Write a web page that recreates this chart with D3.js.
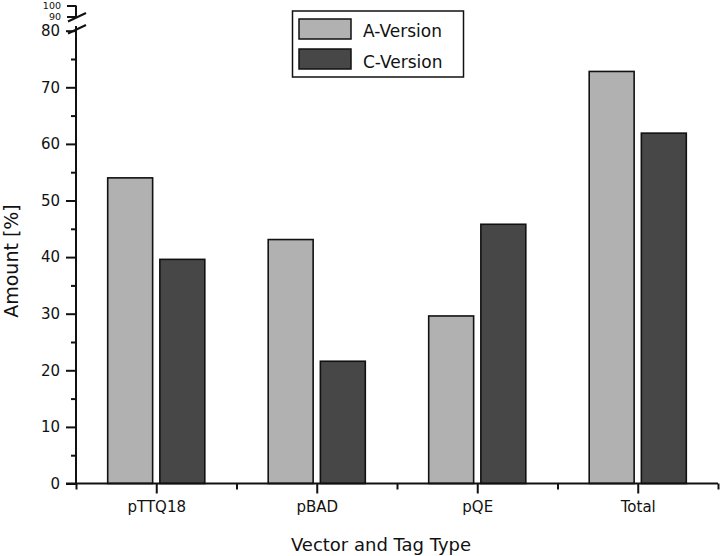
<!DOCTYPE html>
<html>
<head>
<meta charset="utf-8">
<script src="https://cdn.jsdelivr.net/npm/d3@7"></script>
<style>
  html, body { margin: 0; padding: 0; background: #fff; }
  svg { display: block; }
  text { font-family: "DejaVu Sans", Verdana, sans-serif; fill: #111; }
</style>
</head>
<body>
<svg id="chart" width="720" height="556"></svg>
<script>
const categories = ["pTTQ18", "pBAD", "pQE", "Total"];
const seriesNames = ["A-Version", "C-Version"];
const aVersion = [54.0, 43.1, 29.6, 72.8];
const cVersion = [39.6, 21.6, 45.8, 61.9];
const lowerTicks = [0, 10, 20, 30, 40, 50, 60, 70, 80];
const lowerMinorTicks = [5, 15, 25, 35, 45, 55, 65, 75];
const upperTicks = [90, 100];

const colors = ["#b1b1b1", "#474747"];
const svg = d3.select("#chart");

// scales
const x = d3.scaleLinear().domain([0.5, 4.5]).range([76, 718]);
const yLow = d3.scaleLinear().domain([0, 80]).range([483.5, 30.7]);
const yHigh = d3.scaleLinear().domain([90, 100]).range([16.5, 5.5]);
const offsets = [-0.1625, 0.1625];
const barW = x(0.28) - x(0);

// bars
const series = [aVersion, cVersion];
series.forEach((vals, s) => {
  svg.append("g").selectAll("rect")
    .data(vals)
    .join("rect")
    .attr("x", (d, i) => x(i + 1 + offsets[s]) - barW / 2)
    .attr("width", barW)
    .attr("y", d => yLow(d))
    .attr("height", d => yLow(0) - yLow(d))
    .attr("fill", colors[s])
    .attr("stroke", "#111")
    .attr("stroke-width", 1.6);
});

// y axis lower segment
const fontSize = 15;
const yAxisLow = svg.append("g").attr("transform", `translate(${x(0.5)},0)`)
  .call(d3.axisLeft(yLow).tickValues(lowerTicks).tickSize(10).tickPadding(6).tickFormat(d3.format("d")));
yAxisLow.select(".domain").remove();
svg.append("g").attr("transform", `translate(${x(0.5)},0)`)
  .call(d3.axisLeft(yLow).tickValues(lowerMinorTicks).tickSize(5).tickFormat(""))
  .select(".domain").remove();
svg.append("line")
  .attr("x1", x(0.5)).attr("x2", x(0.5))
  .attr("y1", yLow(0)).attr("y2", 26)
  .attr("stroke", "#111").attr("stroke-width", 2);

// y axis upper segment
const yAxisHigh = svg.append("g").attr("transform", `translate(${x(0.5)},0)`)
  .call(d3.axisLeft(yHigh).tickValues(upperTicks).tickSize(9).tickPadding(6).tickFormat(d3.format("d")));
yAxisHigh.select(".domain").remove();
svg.append("line")
  .attr("x1", x(0.5)).attr("x2", x(0.5))
  .attr("y1", yHigh(100)).attr("y2", 17)
  .attr("stroke", "#111").attr("stroke-width", 2);

// break marks
[[21.5, 13], [33.5, 25]].forEach(([y1, y2]) => {
  svg.append("line")
    .attr("x1", x(0.5) - 8).attr("y1", y1)
    .attr("x2", x(0.5) + 10).attr("y2", y2)
    .attr("stroke", "#111").attr("stroke-width", 2);
});

// x axis
const xAxis = svg.append("g").attr("transform", `translate(0,${yLow(0)})`)
  .call(d3.axisBottom(x).tickValues([1, 2, 3, 4]).tickSize(10).tickPadding(8)
    .tickFormat((d) => categories[d - 1]));
xAxis.select(".domain").remove();
svg.append("g").attr("transform", `translate(0,${yLow(0)})`)
  .call(d3.axisBottom(x).tickValues([0.5, 1.5, 2.5, 3.5, 4.5]).tickSize(6).tickFormat(""))
  .select(".domain").remove();
svg.append("line")
  .attr("x1", x(0.5) - 10).attr("x2", x(4.5))
  .attr("y1", yLow(0)).attr("y2", yLow(0))
  .attr("stroke", "#111").attr("stroke-width", 2);

svg.selectAll(".tick line").attr("stroke", "#111").attr("stroke-width", 2);
svg.selectAll(".tick text")
  .style("font-family", '"DejaVu Sans", Verdana, sans-serif')
  .style("font-size", fontSize + "px")
  .attr("fill", "#111");
yAxisHigh.selectAll(".tick text").style("font-size", "9.5px");

// axis titles
svg.append("text")
  .attr("x", 381).attr("y", 551)
  .attr("text-anchor", "middle")
  .style("font-size", "18px")
  .text("Vector and Tag Type");
svg.append("text")
  .attr("transform", "translate(18,261) rotate(-90)")
  .attr("text-anchor", "middle")
  .style("font-size", "19px")
  .text("Amount [%]");

// legend
const lg = svg.append("g");
lg.append("rect")
  .attr("x", 292.5).attr("y", 11).attr("width", 171).attr("height", 66)
  .attr("fill", "#fff").attr("stroke", "#111").attr("stroke-width", 1.5);
seriesNames.forEach((name, i) => {
  lg.append("rect")
    .attr("x", 299).attr("y", 19 + i * 30).attr("width", 52).attr("height", 20)
    .attr("fill", colors[i]).attr("stroke", "#111").attr("stroke-width", 1.5);
  lg.append("text")
    .attr("x", 363).attr("y", 37 + i * 30.5)
    .style("font-size", "17px")
    .text(name);
});
</script>
</body>
</html>
